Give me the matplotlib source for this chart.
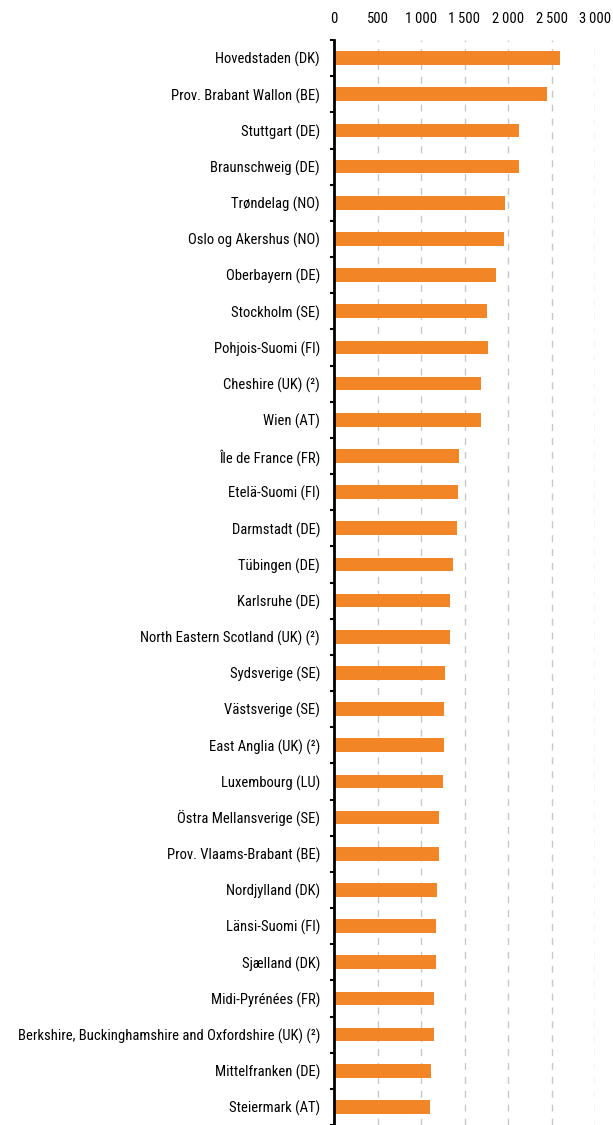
import matplotlib.pyplot as plt
import matplotlib.font_manager as fm
import numpy as np

regions = [
    "Hovedstaden (DK)",
    "Prov. Brabant Wallon (BE)",
    "Stuttgart (DE)",
    "Braunschweig (DE)",
    "Trøndelag (NO)",
    "Oslo og Akershus (NO)",
    "Oberbayern (DE)",
    "Stockholm (SE)",
    "Pohjois-Suomi (FI)",
    "Cheshire (UK) (²)",
    "Wien (AT)",
    "Île de France (FR)",
    "Etelä-Suomi (FI)",
    "Darmstadt (DE)",
    "Tübingen (DE)",
    "Karlsruhe (DE)",
    "North Eastern Scotland (UK) (²)",
    "Sydsverige (SE)",
    "Västsverige (SE)",
    "East Anglia (UK) (²)",
    "Luxembourg (LU)",
    "Östra Mellansverige (SE)",
    "Prov. Vlaams-Brabant (BE)",
    "Nordjylland (DK)",
    "Länsi-Suomi (FI)",
    "Sjælland (DK)",
    "Midi-Pyrénées (FR)",
    "Berkshire, Buckinghamshire and Oxfordshire (UK) (²)",
    "Mittelfranken (DE)",
    "Steiermark (AT)",
]
values = [
    2597, 2451, 2132, 2125, 1968, 1956, 1864, 1761, 1765, 1688,
    1688, 1438, 1427, 1415, 1369, 1335, 1335, 1277, 1270, 1270,
    1258, 1212, 1212, 1189, 1178, 1178, 1155, 1147, 1120, 1101,
]
x_ticks = [0, 500, 1000, 1500, 2000, 2500, 3000]
x_tick_labels = ["0", "500", "1\u2009000", "1\u2009500", "2\u2009000", "2\u2009500", "3\u2009000"]

# pick a narrow font if one is around
fonts = fm.fontManager.ttflist
names = {f.name for f in fonts}
stretch = "normal"
if "Liberation Sans Narrow" in names:
    family = "Liberation Sans Narrow"
elif "Roboto Condensed" in names:
    family = "Roboto Condensed"
elif any(f.name == "DejaVu Sans" and f.stretch == "condensed" for f in fonts):
    family = "DejaVu Sans"
    stretch = "condensed"
else:
    family = "Liberation Sans"
plt.rcParams["font.family"] = [family, "DejaVu Sans"]
plt.rcParams["font.stretch"] = stretch

fig = plt.figure(figsize=(6.13, 11.25), dpi=100)
ax = fig.add_axes([334 / 613, 0.0, (595 - 334) / 613, (1125 - 40) / 1125])

y = np.arange(len(regions))
ax.barh(y, values, height=0.38, color="#F28526", zorder=3)

ax.set_ylim(len(regions) - 0.5, -0.5)
ax.set_xlim(0, 3000)

# x axis on top, labels only
ax.xaxis.tick_top()
ax.set_xticks(x_ticks)
ax.set_xticklabels(x_tick_labels, fontsize=10.5)
ax.tick_params(axis="x", length=0, pad=10)

# category labels at centres, small tick marks between categories
ax.set_yticks(y)
ax.set_yticklabels(regions, fontsize=10.5)
ax.set_yticks(np.arange(len(regions) + 1) - 0.5, minor=True)
ax.tick_params(axis="y", which="major", length=0, pad=10)
ax.tick_params(axis="y", which="minor", length=3, width=1.5, color="black")

ax.grid(axis="x", color="#c8c8c8", linestyle=(0, (5, 5)), linewidth=1, zorder=0)
ax.grid(axis="y", visible=False)

for side in ["top", "right", "bottom"]:
    ax.spines[side].set_visible(False)
ax.spines["left"].set_linewidth(2)
ax.spines["left"].set_zorder(4)

# shrink the labels if the font is too wide for the space
fig.canvas.draw()
renderer = fig.canvas.get_renderer()
widest = max(t.get_window_extent(renderer).width for t in ax.get_yticklabels())
if widest > 318:
    size = 10.5 * 318 / widest
    for t in ax.get_yticklabels():
        t.set_fontsize(size)
last = ax.get_xticklabels()[-1].get_window_extent(renderer).x1
if last > 612:
    for t in ax.get_xticklabels():
        t.set_fontsize(9.5)

fig.savefig("out.png", dpi=100)
